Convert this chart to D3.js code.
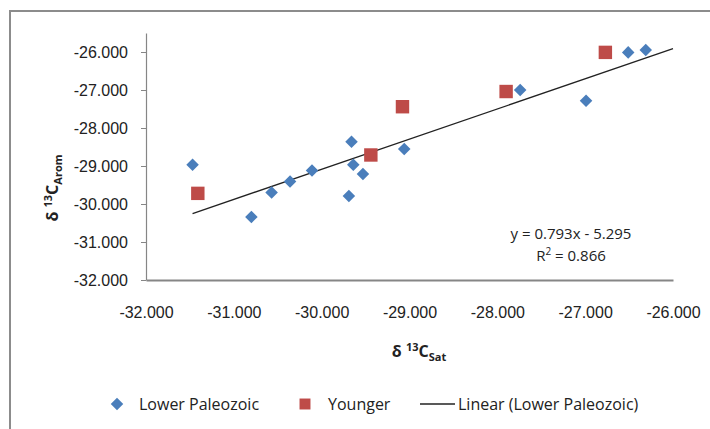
<!DOCTYPE html>
<html>
<head>
<meta charset="utf-8">
<script src="https://cdn.jsdelivr.net/npm/d3@7"></script>
<style>
  body { margin: 0; background: #fff; }
  svg { font-family: 'Open Sans', sans-serif; }
  .axis text { font-size: 16px; fill: #222; }
  .axis path, .axis line { stroke: #868686; }
</style>
</head>
<body>
<div id="chart"></div>
<script>
// Lower Paleozoic samples (d13C sat, d13C arom)
const lowerX = [-31.47, -30.57, -30.36, -30.11, -29.66, -29.64, -29.53, -29.69, -30.80, -29.06, -27.74, -26.99, -26.51, -26.31]
const lowerY = [-28.97, -29.70, -29.41, -29.12, -28.36, -28.97, -29.21, -29.79, -30.34, -28.55, -27.00, -27.28, -26.01, -25.95]

// Younger samples
const youngX = [-31.41, -29.44, -29.08, -27.90, -26.77]
const youngY = [-29.72, -28.71, -27.44, -27.04, -26.01]

// linear fit as printed on the chart
const slope = 0.793
const intercept = -5.295

const xTicks = [-32, -31, -30, -29, -28, -27, -26]
const yTicks = [-32, -31, -30, -29, -28, -27, -26]

const width = 710
const height = 429

const svg = d3
  .select('#chart')
  .append('svg')
  .attr('width', width)
  .attr('height', height)

// chart frame
svg
  .append('rect')
  .attr('x', 10)
  .attr('y', 11)
  .attr('width', 740)
  .attr('height', 440)
  .attr('fill', 'none')
  .attr('stroke', '#8c8c8c')
  .attr('stroke-width', 2)

const xScale = d3.scaleLinear().domain([-32, -26]).range([146, 673])
const yScale = d3.scaleLinear().domain([-32, -25.5]).range([280, 33])

const fmt = d => d.toFixed(3)

// y axis
const yAxis = svg
  .append('g')
  .attr('class', 'axis')
  .attr('transform', 'translate(146,0)')
  .call(
    d3
      .axisLeft(yScale)
      .tickValues(yTicks)
      .tickFormat(fmt)
      .tickSize(5)
      .tickSizeOuter(0)
      .tickPadding(13)
  )
yAxis.select('.domain').attr('stroke-width', 1.2)

// x axis
const xAxis = svg
  .append('g')
  .attr('class', 'axis')
  .attr('transform', 'translate(0,280)')
  .call(
    d3
      .axisBottom(xScale)
      .tickValues(xTicks)
      .tickFormat(fmt)
      .tickSize(0)
      .tickPadding(27)
  )
xAxis.select('.domain').attr('stroke-width', 2)

// trend line over the Lower Paleozoic range
const fitX = [d3.min(lowerX), xScale.domain()[1]]
svg
  .append('line')
  .attr('x1', xScale(fitX[0]))
  .attr('y1', yScale(slope * fitX[0] + intercept))
  .attr('x2', xScale(fitX[1]))
  .attr('y2', yScale(slope * fitX[1] + intercept))
  .attr('stroke', '#222')
  .attr('stroke-width', 1.3)

const blue = '#4a7ebb'
const red = '#be4b48'

const diamond = d3.symbol().type(d3.symbolDiamond2).size(100)
const square = d3.symbol().type(d3.symbolSquare).size(180)

svg
  .selectAll('.lower')
  .data(d3.zip(lowerX, lowerY))
  .enter()
  .append('path')
  .attr('class', 'lower')
  .attr('d', diamond)
  .attr('fill', blue)
  .attr('transform', d => `translate(${xScale(d[0])},${yScale(d[1])})`)

svg
  .selectAll('.young')
  .data(d3.zip(youngX, youngY))
  .enter()
  .append('path')
  .attr('class', 'young')
  .attr('d', square)
  .attr('fill', red)
  .attr('transform', d => `translate(${xScale(d[0])},${yScale(d[1])})`)

// equation
svg
  .append('text')
  .attr('x', 571)
  .attr('y', 239)
  .attr('text-anchor', 'middle')
  .attr('font-size', 15)
  .attr('fill', '#222')
  .text('y = 0.793x - 5.295')

const r2 = svg
  .append('text')
  .attr('x', 571)
  .attr('y', 261)
  .attr('text-anchor', 'middle')
  .attr('font-size', 15)
  .attr('fill', '#222')
r2.append('tspan').text('R')
r2.append('tspan').attr('font-size', 10).attr('dy', -6).text('2')
r2.append('tspan').attr('dy', 6).text(' = 0.866')

// x axis title
const xt = svg
  .append('text')
  .attr('x', 419)
  .attr('y', 357)
  .attr('text-anchor', 'middle')
  .attr('font-size', 16)
  .attr('font-weight', 'bold')
  .attr('fill', '#222')
xt.append('tspan').text('δ ')
xt.append('tspan').attr('font-size', 11).attr('dy', -6).text('13')
xt.append('tspan').attr('dy', 6).text('C')
xt.append('tspan').attr('font-size', 11).attr('dy', 4).text('Sat')

// y axis title
const yt = svg
  .append('text')
  .attr('transform', 'translate(58,188) rotate(-90)')
  .attr('text-anchor', 'middle')
  .attr('font-size', 16)
  .attr('font-weight', 'bold')
  .attr('fill', '#222')
yt.append('tspan').text('δ ')
yt.append('tspan').attr('font-size', 11).attr('dy', -6).text('13')
yt.append('tspan').attr('dy', 6).text('C')
yt.append('tspan').attr('font-size', 11).attr('dy', 4).text('Arom')

// legend
const legendY = 404
const legend = svg.append('g').attr('font-size', 16).attr('fill', '#222')

legend
  .append('path')
  .attr('d', diamond)
  .attr('fill', blue)
  .attr('transform', `translate(117,${legendY})`)
legend
  .append('text')
  .attr('x', 139)
  .attr('y', legendY + 6)
  .text('Lower Paleozoic')

legend
  .append('path')
  .attr('d', d3.symbol().type(d3.symbolSquare).size(120))
  .attr('fill', red)
  .attr('transform', `translate(305,${legendY})`)
legend
  .append('text')
  .attr('x', 328)
  .attr('y', legendY + 6)
  .text('Younger')

legend
  .append('line')
  .attr('x1', 420)
  .attr('x2', 455)
  .attr('y1', legendY)
  .attr('y2', legendY)
  .attr('stroke', '#222')
  .attr('stroke-width', 1.3)
legend
  .append('text')
  .attr('x', 458)
  .attr('y', legendY + 6)
  .text('Linear (Lower Paleozoic)')
</script>
</body>
</html>
